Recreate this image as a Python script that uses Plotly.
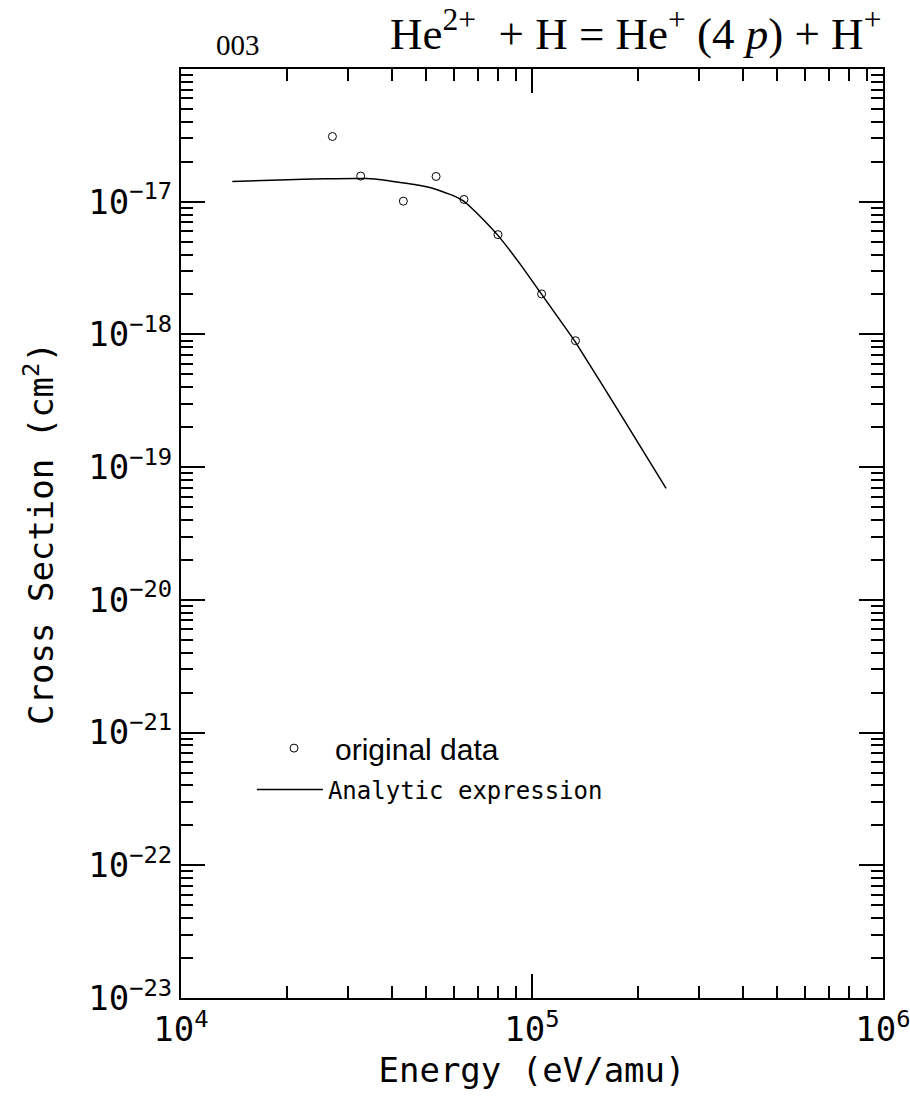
import plotly.graph_objects as go

# original data (energy eV/amu, cross section cm^2)
data_energy = [27000, 32500, 43000, 53300, 64000, 80000, 106500, 133000]
data_sigma = [3.10e-17, 1.56e-17, 1.01e-17, 1.55e-17, 1.04e-17, 5.65e-18, 2.02e-18, 8.97e-19]

# analytic expression curve
fit_energy = [14000, 19100, 26000, 33810, 37700, 42070, 47970, 52340, 58400, 61150, 63730,
              67470, 71910, 79630, 92440, 106300, 132300, 178100, 241000]
fit_sigma = [1.42e-17, 1.46e-17, 1.49e-17, 1.493e-17, 1.459e-17, 1.397e-17, 1.327e-17,
             1.259e-17, 1.135e-17, 1.077e-17, 1.014e-17, 8.90e-18, 7.55e-18, 5.65e-18,
             3.40e-18, 2.02e-18, 8.93e-19, 2.54e-19, 6.93e-20]

x_decades = [4, 5, 6]
y_decades = [-23, -22, -21, -20, -19, -18, -17, -16]
y_labeled = [-23, -22, -21, -20, -19, -18, -17]

MONO = "DejaVu Sans Mono"

def minor_vals(decs):
    vals = []
    for d in decs[:-1]:
        for m in range(2, 10):
            vals.append(m * 10.0 ** d)
    return vals

fig = go.Figure()
fig.add_trace(go.Scatter(
    x=data_energy, y=data_sigma, mode="markers", name="original data",
    marker=dict(symbol="circle-open", size=8, color="black", line=dict(width=1)),
    legend="legend",
))
fig.add_trace(go.Scatter(
    x=fit_energy, y=fit_sigma, mode="lines", name="Analytic expression",
    line=dict(color="black", width=1.5, shape="spline", smoothing=0.3),
    legend="legend2",
))

axis_common = dict(
    type="log", showline=True, linecolor="black", linewidth=2, mirror="allticks",
    ticks="inside", ticklen=24, tickwidth=1.5, tickcolor="black",
    showgrid=False, zeroline=False, ticklabeloverflow="allow", automargin=False,
    tickfont=dict(family=MONO, size=34, color="black"),
    title_font=dict(family=MONO, size=34, color="black"),
)

fig.update_xaxes(
    **axis_common,
    range=[3.99999, 6.00001],
    tickmode="array",
    tickvals=[10.0 ** d for d in x_decades],
    ticktext=["10<sup>%d</sup>" % d for d in x_decades],
    minor=dict(tickmode="array", tickvals=minor_vals(x_decades), ticks="inside",
               ticklen=12, tickwidth=1.5, tickcolor="black"),
    title_text="Energy (eV/amu)",
    title_standoff=10,
)
fig.update_yaxes(
    **axis_common,
    range=[-23.00001, -15.99999],
    tickmode="array",
    tickvals=[10.0 ** d for d in y_labeled],
    ticktext=["10<sup>\u2212%d</sup>" % (-d) for d in y_labeled],
    minor=dict(tickmode="array", tickvals=minor_vals(y_decades), ticks="inside",
               ticklen=12, tickwidth=1.5, tickcolor="black"),
    title_text="Cross Section (cm<sup>2</sup>)",
    title_standoff=24,
)

fig.update_layout(
    width=910, height=1106,
    margin=dict(l=181, r=27, t=69, b=108, autoexpand=False),
    plot_bgcolor="white", paper_bgcolor="white",
    showlegend=True,
    legend=dict(x=0.1026, y=0.269, xanchor="left", yanchor="middle",
                font=dict(family="Liberation Sans", size=30, color="black"),
                bgcolor="rgba(0,0,0,0)", itemwidth=72),
    legend2=dict(x=0.101, y=0.224, xanchor="left", yanchor="middle",
                 font=dict(family=MONO, size=24, color="black"),
                 bgcolor="rgba(0,0,0,0)", itemwidth=66),
    annotations=[
        dict(text="He<sup>2+</sup>  + H = He<sup>+</sup> (4 <i>p</i>) + H<sup>+</sup>",
             xref="paper", yref="paper", x=0.647, y=1.0, yshift=39,
             xanchor="center", yanchor="middle", showarrow=False,
             font=dict(family="Liberation Serif", size=45, color="black")),
        dict(text="003", xref="paper", yref="paper", x=0.081, y=1.0, yshift=24,
             xanchor="center", yanchor="middle", showarrow=False,
             font=dict(family="Liberation Serif", size=29, color="black")),
    ],
)

fig.write_html("out.html")
